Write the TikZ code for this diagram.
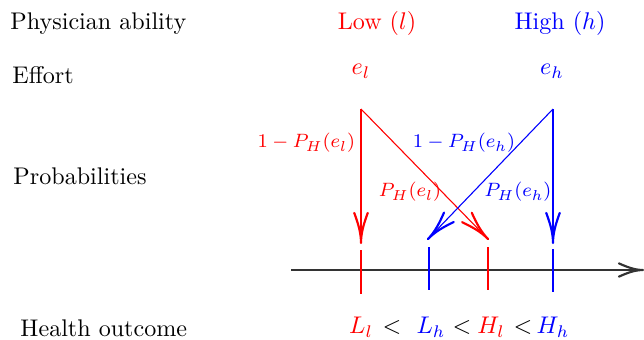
\documentclass[tikz,border=0pt]{standalone}
\usetikzlibrary{arrows.meta}
\pgfdeclarearrow{
  name = LongTo,
  parameters = {\the\pgfarrowlength,\the\pgfarrowwidth},
  setup code = {
    \pgfarrowssettipend{0pt}
    \pgfarrowssetbackend{-\pgfarrowlength}
    \pgfarrowssetlineend{-0.6pt}
    \pgfarrowssavethe\pgfarrowlength
    \pgfarrowssavethe\pgfarrowwidth
  },
  drawing code = {
    \pgfsetdash{}{0pt}\pgfsetroundcap\pgfsetroundjoin
    \pgfsetlinewidth{0.9pt}
    \pgfpathmoveto{\pgfqpoint{-\pgfarrowlength}{.5\pgfarrowwidth}}
    \pgfpathcurveto{\pgfqpoint{-.65\pgfarrowlength}{.22\pgfarrowwidth}}{\pgfqpoint{-.35\pgfarrowlength}{0pt}}{\pgfqpoint{0pt}{0pt}}
    \pgfpathcurveto{\pgfqpoint{-.35\pgfarrowlength}{0pt}}{\pgfqpoint{-.65\pgfarrowlength}{-.22\pgfarrowwidth}}{\pgfqpoint{-\pgfarrowlength}{-.5\pgfarrowwidth}}
    \pgfusepathqstroke
  },
  defaults = {length=12pt, width=5.5pt}
}
\begin{document}
\begin{tikzpicture}[x=0.415pt,y=-0.415pt,
  lbl/.style={inner sep=0pt, anchor=west},
  plbl/.style={inner sep=1pt, font=\footnotesize},
  redc/.style={draw=red, line width=0.45pt},
  bluec/.style={draw=blue, line width=0.45pt},
  tip/.style={-{LongTo[length=12.5pt,width=5.6pt]}},
  tick/.style={line width=0.45pt},
]
\useasboundingbox (0,0) rectangle (644,339);
% row labels
\node[lbl] (pa) at (10,23.5) {Physician ability};
\node[lbl] (ef) at (12,75) {Effort};
\node[lbl] (pr) at (13,176) {Probabilities};
\node[lbl] (ho) at (20,328) {Health outcome};
% column headers
\node[text=red, inner sep=0pt] (low) at (377,23) {Low ($l$)};
\node[text=blue, inner sep=0pt] (high) at (560,23) {High ($h$)};
\node[text=red, inner sep=0pt] (el) at (361,71) {$e_l$};
\node[text=blue, inner sep=0pt] (eh) at (552,71) {$e_h$};
% branching points
\coordinate (rt) at (361,109);
\coordinate (bt) at (553,109);
\coordinate (rv) at (361,243);
\coordinate (rd) at (488,239);
\coordinate (bv) at (553,243);
\coordinate (bd) at (428,239);
\draw[redc, tip, red] (rt) -- (rv);
\draw[redc, tip, red] (rt) -- (rd);
\draw[bluec, tip, blue] (bt) -- (bv);
\draw[bluec, tip, blue] (bt) -- (bd);
% probability labels
\node[plbl, text=red, anchor=east] (p1l) at (358,143) {$1-P_H(e_l)$};
\node[plbl, text=blue] (p1h) at (464,143) {$1-P_H(e_h)$};
\node[plbl, text=red] (pl) at (410,192) {$P_H(e_l)$};
\node[plbl, text=blue] (ph) at (518,192) {$P_H(e_h)$};
% axis
\coordinate (a0) at (291,270);
\coordinate (a1) at (643,270);
\draw[line width=0.7pt, black!80, -{LongTo[length=10pt,width=5.5pt]}] (a0) -- (a1);
% ticks
\coordinate (t1a) at (361,250); \coordinate (t1b) at (361,294);
\coordinate (t2a) at (429,247); \coordinate (t2b) at (429,290);
\coordinate (t3a) at (488,247); \coordinate (t3b) at (488,290);
\coordinate (t4a) at (553,249); \coordinate (t4b) at (553,292);
\draw[tick, red] (t1a) -- (t1b);
\draw[tick, blue] (t2a) -- (t2b);
\draw[tick, red] (t3a) -- (t3b);
\draw[tick, blue] (t4a) -- (t4b);
% outcomes
\node[text=red, inner sep=0pt] (Ll) at (361,327) {$L_l$};
\node[inner sep=0pt] (lt1) at (392,327) {$<$};
\node[text=blue, inner sep=0pt] (Lh) at (431,327) {$L_h$};
\node[inner sep=0pt] (lt2) at (462,327) {$<$};
\node[text=red, inner sep=0pt] (Hl) at (491,327) {$H_l$};
\node[inner sep=0pt] (lt3) at (523,327) {$<$};
\node[text=blue, inner sep=0pt] (Hh) at (553,327) {$H_h$};
\end{tikzpicture}
\end{document}
